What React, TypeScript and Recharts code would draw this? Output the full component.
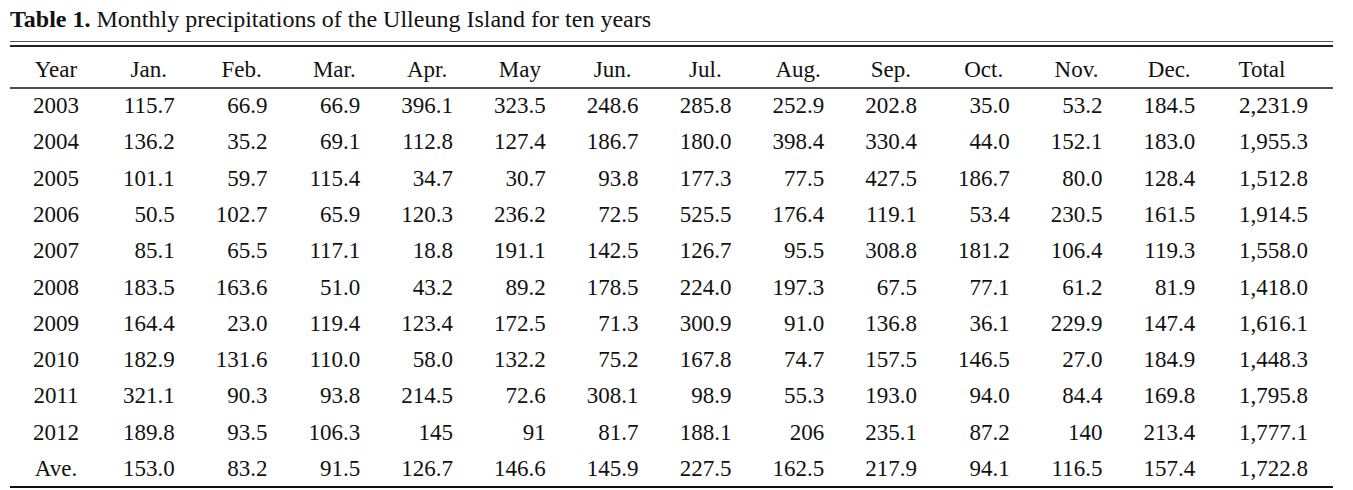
import React from 'react';
import { ScatterChart, Scatter, XAxis, YAxis } from 'recharts';

// Monthly precipitation (mm), Ulleung Island, rows 2003..2012 + average
const columns = ['Year', 'Jan.', 'Feb.', 'Mar.', 'Apr.', 'May', 'Jun.', 'Jul.', 'Aug.', 'Sep.', 'Oct.', 'Nov.', 'Dec.', 'Total'];
const years = ['2003', '2004', '2005', '2006', '2007', '2008', '2009', '2010', '2011', '2012', 'Ave.'];

const jan = ['115.7', '136.2', '101.1', '50.5', '85.1', '183.5', '164.4', '182.9', '321.1', '189.8', '153.0'];
const feb = ['66.9', '35.2', '59.7', '102.7', '65.5', '163.6', '23.0', '131.6', '90.3', '93.5', '83.2'];
const mar = ['66.9', '69.1', '115.4', '65.9', '117.1', '51.0', '119.4', '110.0', '93.8', '106.3', '91.5'];
const apr = ['396.1', '112.8', '34.7', '120.3', '18.8', '43.2', '123.4', '58.0', '214.5', '145', '126.7'];
const may = ['323.5', '127.4', '30.7', '236.2', '191.1', '89.2', '172.5', '132.2', '72.6', '91', '146.6'];
const jun = ['248.6', '186.7', '93.8', '72.5', '142.5', '178.5', '71.3', '75.2', '308.1', '81.7', '145.9'];
const jul = ['285.8', '180.0', '177.3', '525.5', '126.7', '224.0', '300.9', '167.8', '98.9', '188.1', '227.5'];
const aug = ['252.9', '398.4', '77.5', '176.4', '95.5', '197.3', '91.0', '74.7', '55.3', '206', '162.5'];
const sep = ['202.8', '330.4', '427.5', '119.1', '308.8', '67.5', '136.8', '157.5', '193.0', '235.1', '217.9'];
const oct = ['35.0', '44.0', '186.7', '53.4', '181.2', '77.1', '36.1', '146.5', '94.0', '87.2', '94.1'];
const nov = ['53.2', '152.1', '80.0', '230.5', '106.4', '61.2', '229.9', '27.0', '84.4', '140', '116.5'];
const dec = ['184.5', '183.0', '128.4', '161.5', '119.3', '81.9', '147.4', '184.9', '169.8', '213.4', '157.4'];
const total = ['2,231.9', '1,955.3', '1,512.8', '1,914.5', '1,558.0', '1,418.0', '1,616.1', '1,448.3', '1,795.8', '1,777.1', '1,722.8'];

const columnValues = [years, jan, feb, mar, apr, may, jun, jul, aug, sep, oct, nov, dec, total];

// one point per table cell
const cells = columns.flatMap((col, c) =>
  years.map((row, r) => ({ col, row, text: columnValues[c][r] }))
);

const FONT = '"Liberation Serif", "Times New Roman", serif';
const INK = '#111';

const CellText = (props: any) => {
  const { cx, cy, payload } = props;
  if (cx == null || cy == null) return null;
  const col = payload.col;
  let x = cx;
  let anchor: 'middle' | 'end' = 'end';
  if (col === 'Year') anchor = 'middle';
  else if (col === 'Total') x = cx + 46;
  else x = cx + 26;
  return (
    <text x={x} y={cy + 7} textAnchor={anchor} fontSize={23} fontFamily={FONT} fill={INK}>
      {payload.text}
    </text>
  );
};

// header labels, sitting just above the axis line
const HeaderTick = (props: any) => {
  const { x, y, payload } = props;
  return (
    <text x={x} y={y} textAnchor="middle" fontSize={23} fontFamily={FONT} fill={INK}>
      {payload.value}
    </text>
  );
};

export default function App() {
  return (
    <div style={{ position: 'absolute', left: 0, top: 0, width: 1353, height: 490, background: '#fff', fontFamily: FONT, color: INK }}>
      <div style={{ position: 'absolute', left: 10, top: 6, fontSize: 24, whiteSpace: 'nowrap' }}>
        <b>Table 1.</b> Monthly precipitations of the Ulleung Island for ten years
      </div>
      <div style={{ position: 'absolute', left: 10, top: 41, width: 1323, height: 1, background: '#555' }} />
      <div style={{ position: 'absolute', left: 10, top: 45, width: 1323, height: 2, background: '#222' }} />
      <div style={{ position: 'absolute', left: 10, top: 486, width: 1323, height: 2, background: INK }} />
      <div style={{ position: 'absolute', left: 0, top: 0 }}>
        <ScatterChart width={1353} height={490} margin={{ top: 58, right: 20, bottom: 3, left: 10 }}>
          <XAxis
            dataKey="col"
            type="category"
            allowDuplicatedCategory={false}
            domain={columns}
            ticks={columns}
            scale="point"
            orientation="top"
            height={30}
            padding={{ left: 46, right: 71 }}
            interval={0}
            tickLine={false}
            tickSize={9}
            axisLine={{ stroke: INK, strokeWidth: 1.5 }}
            tick={<HeaderTick />}
          />
          <YAxis
            dataKey="row"
            type="category"
            allowDuplicatedCategory={false}
            domain={years}
            scale="point"
            reversed
            padding={{ top: 18, bottom: 18 }}
            hide
          />
          <Scatter data={cells} shape={CellText} isAnimationActive={false} />
        </ScatterChart>
      </div>
    </div>
  );
}
